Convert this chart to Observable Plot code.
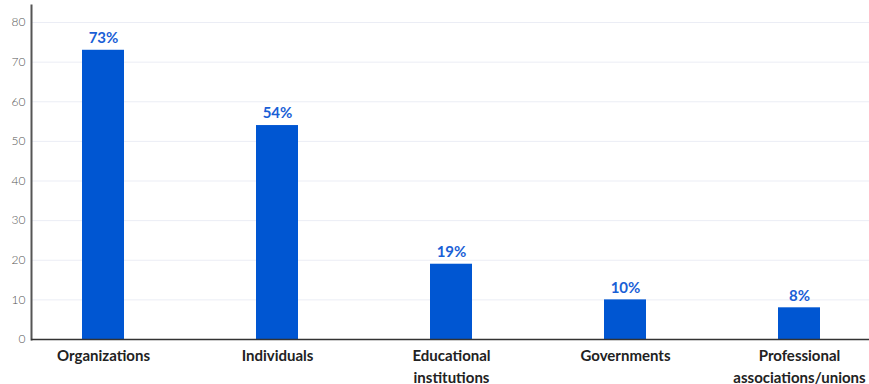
<!DOCTYPE html>
<html>
<head>
<meta charset="utf-8">
<script src="https://cdn.jsdelivr.net/npm/d3@7"></script>
<script src="https://cdn.jsdelivr.net/npm/@observablehq/plot@0.6"></script>
<style>
  html, body { margin: 0; padding: 0; background: #fff; }
  #chart svg { display: block; overflow: visible; }
</style>
</head>
<body>
<div id="chart"></div>
<script>
// Share of respondents by type of entity
const categories = ["Organizations", "Individuals", "Educational\ninstitutions", "Governments", "Professional\nassociations/unions"];
const values = [73, 54, 19, 10, 8];
const yTicks = [0, 10, 20, 30, 40, 50, 60, 70, 80];

const data = categories.map((c, i) => ({category: c, value: values[i]}));

const font = "Lato, 'Open Sans', sans-serif";
const barColor = "#0056d2";

const chart = Plot.plot({
  width: 869,
  height: 384,
  marginLeft: 31,
  marginRight: 0,
  marginTop: 5,
  marginBottom: 45,
  style: {fontFamily: font, background: "#fff"},
  x: {domain: categories, range: [33, 869], paddingInner: 0.76, paddingOuter: 0.28, label: null},
  y: {domain: [0, 84.3], label: null},
  marks: [
    Plot.gridY(yTicks, {stroke: "#ebedf5", strokeOpacity: 1, strokeWidth: 1}),
    Plot.barY(data, {x: "category", y: "value", fill: barColor}),
    Plot.text(data, {
      x: "category", y: "value", text: d => `${d.value}%`,
      dy: -12, fill: "#1a5fd6", fontSize: 15, fontWeight: 700
    }),
    Plot.axisY(yTicks, {
      tickSize: 0, tickPadding: 6, fill: "#555", fontSize: 12, fontWeight: 300, label: null
    }),
    Plot.axisX({
      tickSize: 0, tickPadding: 6, fill: "#222", fontSize: 15, fontWeight: 700,
      lineHeight: 1.45, label: null
    }),
    Plot.frame({anchor: "left", stroke: "#555", strokeWidth: 2}),
    Plot.ruleY([0], {stroke: "#333", strokeWidth: 1.5})
  ]
});

document.getElementById("chart").appendChild(chart);
</script>
</body>
</html>
